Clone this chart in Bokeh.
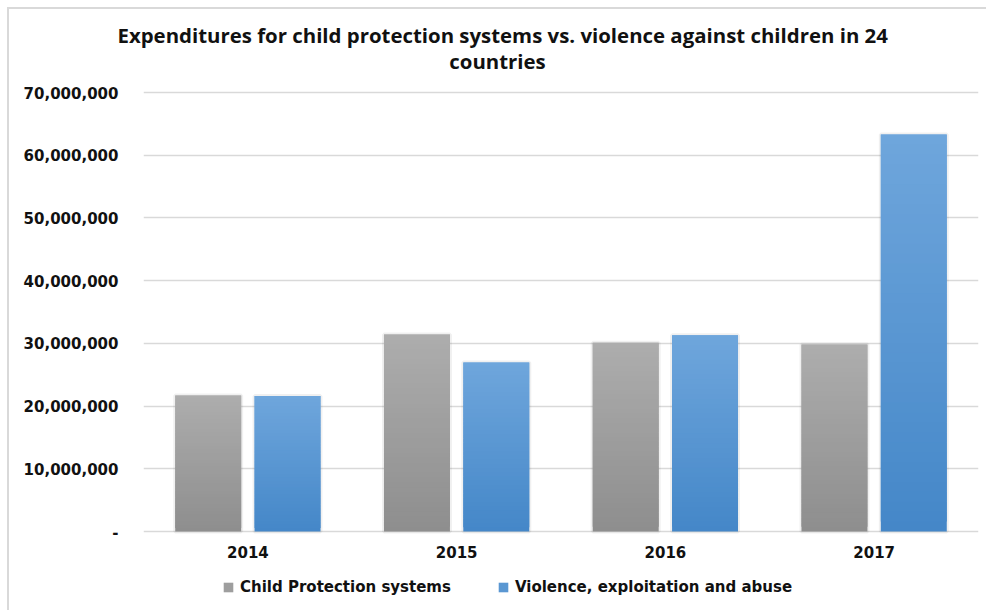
from bokeh.plotting import figure
from bokeh.models import (ColumnDataSource, FactorRange, Legend, LegendItem, Title, Label,
                          NumeralTickFormatter, FixedTicker, Range1d)
from bokeh.core.properties import value
from bokeh.transform import dodge
from bokeh.embed import file_html
from bokeh.resources import INLINE

# ---- data ----
years = ["2014", "2015", "2016", "2017"]
child_protection = [21700000, 31400000, 30100000, 29800000]
violence = [21600000, 26950000, 31300000, 63300000]
series_names = ["Child Protection systems", "Violence, exploitation and abuse"]
y_ticks = [0, 10000000, 20000000, 30000000, 40000000, 50000000, 60000000, 70000000]
title_line1 = "Expenditures for child protection systems vs. violence against children in 24"
title_line2 = "countries"

# ---- layout / style ----
GREY_TOP, GREY_BOT = (0xAD, 0xAD, 0xAD), (0x8E, 0x8E, 0x8E)
BLUE_TOP, BLUE_BOT = (0x6F, 0xA6, 0xDC), (0x44, 0x87, 0xC8)
BAR_W = 0.316
OFF = 0.19
N_SLICES = 40
W, H = 986, 610
FRAME_L, FRAME_T = 143, 48     # frame extends above the top gridline to hold title line 2
AXIS_Y, TOP_Y = 531, 92        # pixel rows of 0 and of 70,000,000
Y_TOP_TICK = 70000000
PX_PER_UNIT = (AXIS_Y - TOP_Y) / Y_TOP_TICK
Y_MIN = -(H - AXIS_Y) / PX_PER_UNIT
Y_MAX = Y_TOP_TICK + (TOP_Y - FRAME_T) / PX_PER_UNIT
LABEL_FONT = "DejaVu Sans"
LABEL_SIZE = "15px"
TITLE_FONT = "Open Sans"
TITLE_SIZE = "20.4px"
INK = "#111111"


def hexc(c):
    return "#%02x%02x%02x" % tuple(int(round(v)) for v in c)


def gradient_source(vals, bot, top):
    xs, bots, tops, cols = [], [], [], []
    for yr, v in zip(years, vals):
        for k in range(N_SLICES):
            t = (k + 0.5) / N_SLICES
            xs.append(yr)
            bots.append(v * k / N_SLICES)
            tops.append(min(v, v * (k + 2) / N_SLICES))   # overlap to hide seams
            cols.append(hexc([b + (a - b) * t for a, b in zip(top, bot)]))
    return ColumnDataSource(dict(x=xs, bottom=bots, top=tops, color=cols))


p = figure(width=W, height=H, x_range=FactorRange(*years, range_padding=0),
           y_range=Range1d(Y_MIN, Y_MAX), output_backend="svg", toolbar_location=None,
           x_axis_location=None,
           min_border_left=FRAME_L, min_border_right=8, min_border_top=FRAME_T,
           min_border_bottom=0, title=None)
p.background_fill_color = "white"
p.border_fill_alpha = 0
p.outline_line_color = None
# chart-area border lines drawn as the page background behind the transparent border area
p.styles = {
    "background": "linear-gradient(#d9d9d9,#d9d9d9) 7px 7px / 2px 100% no-repeat, "
                  "linear-gradient(#d9d9d9,#d9d9d9) 7px 7px / 100% 2px no-repeat, white"
}

# grid (the line at 0 doubles as the category axis line)
p.xgrid.grid_line_color = None
p.ygrid.grid_line_color = "#d9d9d9"
p.ygrid.grid_line_width = 1.5
p.ygrid.ticker = FixedTicker(ticks=y_ticks)

# y axis
p.yaxis.ticker = FixedTicker(ticks=y_ticks)
p.yaxis.formatter = NumeralTickFormatter(format="0,0")
p.yaxis.major_label_overrides = {0: "-"}
p.yaxis.axis_line_color = None
p.yaxis.major_tick_line_color = None
p.yaxis.minor_tick_line_color = None
p.yaxis.major_label_standoff = 19
p.yaxis.major_label_text_font = LABEL_FONT
p.yaxis.major_label_text_font_style = "bold"
p.yaxis.major_label_text_font_size = LABEL_SIZE
p.yaxis.major_label_text_color = INK

# category labels
p.text(x=years, y=[0] * len(years), text=years, y_offset=20,
       text_align="center", text_baseline="middle", text_font=value(LABEL_FONT),
       text_font_style="bold", text_font_size=value(LABEL_SIZE), text_color=INK)

bar_renderers = []
for vals, off, (bot, top) in [(child_protection, -OFF, (GREY_BOT, GREY_TOP)),
                              (violence, OFF, (BLUE_BOT, BLUE_TOP))]:
    shadow_src = ColumnDataSource(dict(x=years, top=vals))
    p.vbar(x=dodge("x", off, range=p.x_range), top="top", bottom=0, width=BAR_W,
           source=shadow_src, fill_alpha=0, line_color="black", line_alpha=0.06,
           line_width=4)
    src = gradient_source(vals, bot, top)
    r = p.vbar(x=dodge("x", off, range=p.x_range), top="top", bottom="bottom",
               width=BAR_W, source=src, fill_color="color", line_alpha=0)
    bar_renderers.append(r)

items = [LegendItem(label=name, renderers=[r], index=N_SLICES // 2)
         for r, name in zip(bar_renderers, series_names)]

legend = Legend(items=items, orientation="horizontal", location=(222 - FRAME_L, 14),
                glyph_width=12, glyph_height=12, label_standoff=6, spacing=46,
                label_text_font=LABEL_FONT, label_text_font_style="bold",
                label_text_font_size=LABEL_SIZE, label_text_color=INK,
                border_line_color=None, background_fill_alpha=0, margin=0,
                padding=0)
p.add_layout(legend)

# title line 1 in the panel above the frame
p.add_layout(Title(text=title_line1, align="left", offset=117 - FRAME_L, standoff=0,
                   text_font=TITLE_FONT, text_font_style="bold",
                   text_font_size=TITLE_SIZE, text_color=INK), "above")
# title line 2 inside the top of the frame (frame-relative screen units)
p.add_layout(Label(x=497 - FRAME_L, y=H - 60, x_units="screen", y_units="screen",
                   text=title_line2, text_align="center", text_baseline="middle",
                   text_font=TITLE_FONT, text_font_style="bold",
                   text_font_size=TITLE_SIZE, text_color=INK))

open("out.html", "w").write(file_html(p, INLINE))
